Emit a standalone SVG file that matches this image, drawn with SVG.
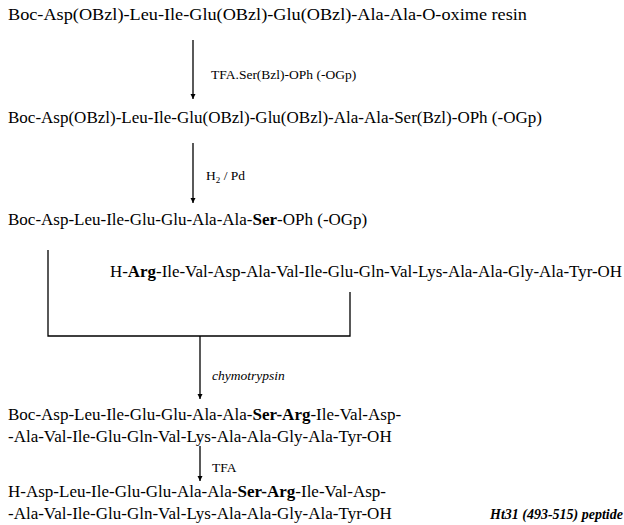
<svg xmlns="http://www.w3.org/2000/svg" width="624" height="525" viewBox="0 0 624 525">
<style>
text{font-family:'Liberation Serif','DejaVu Serif','Times New Roman',Times,serif;fill:#000}
.t{font-size:17px}
.l{font-size:13.5px}
.b{font-weight:bold}
.c{stroke:#000;stroke-width:1.3;fill:none}
</style>
<defs>
<marker id="ah" viewBox="0 0 10 10" refX="10" refY="5" markerWidth="5" markerHeight="6" orient="auto" markerUnits="userSpaceOnUse">
<path d="M0,0 L10,5 L0,10 z" fill="#000"/>
</marker>
</defs>
<g id="connectors">
<line class="c" x1="193" y1="40" x2="193" y2="99" marker-end="url(#ah)"/>
<line class="c" x1="193" y1="143" x2="193" y2="203" marker-end="url(#ah)"/>
<polyline class="c" points="48,250 48,336 350,336 350,292"/>
<line class="c" x1="200" y1="336" x2="200" y2="399" marker-end="url(#ah)"/>
<line class="c" x1="200" y1="446" x2="200" y2="481" marker-end="url(#ah)"/>
</g>
<g id="n1"><text class="t" x="8" y="20" textLength="519" lengthAdjust="spacingAndGlyphs">Boc-Asp(OBzl)-Leu-Ile-Glu(OBzl)-Glu(OBzl)-Ala-Ala-O-oxime resin</text></g>
<g id="lbl1"><text class="l" x="211" y="79">TFA.Ser(Bzl)-OPh (-OGp)</text></g>
<g id="n2"><text class="t" x="8" y="123">Boc-Asp(OBzl)-Leu-Ile-Glu(OBzl)-Glu(OBzl)-Ala-Ala-Ser(Bzl)-OPh (-OGp)</text></g>
<g id="lbl2"><text class="l" x="206" y="180">H<tspan font-size="9" dy="3">2</tspan><tspan dy="-3"> / Pd</tspan></text></g>
<g id="n3"><text class="t" x="8" y="225">Boc-Asp-Leu-Ile-Glu-Glu-Ala-Ala-<tspan class="b">Ser</tspan>-OPh (-OGp)</text></g>
<g id="n4"><text class="t" x="110" y="277" textLength="512" lengthAdjust="spacingAndGlyphs">H-<tspan class="b">Arg</tspan>-Ile-Val-Asp-Ala-Val-Ile-Glu-Gln-Val-Lys-Ala-Ala-Gly-Ala-Tyr-OH</text></g>
<g id="lbl3"><text class="l" x="212" y="380" font-style="italic">chymotrypsin</text></g>
<g id="n5"><text class="t" x="8" y="420">Boc-Asp-Leu-Ile-Glu-Glu-Ala-Ala-<tspan class="b">Ser-Arg</tspan>-Ile-Val-Asp-</text><text class="t" x="8" y="442">-Ala-Val-Ile-Glu-Gln-Val-Lys-Ala-Ala-Gly-Ala-Tyr-OH</text></g>
<g id="lbl4"><text class="l" x="212" y="472">TFA</text></g>
<g id="n6"><text class="t" x="8" y="497">H-Asp-Leu-Ile-Glu-Glu-Ala-Ala-<tspan class="b">Ser-Arg</tspan>-Ile-Val-Asp-</text><text class="t" x="8" y="519">-Ala-Val-Ile-Glu-Gln-Val-Lys-Ala-Ala-Gly-Ala-Tyr-OH</text></g>
<g id="n7"><text x="490" y="519" font-size="14" font-weight="bold" font-style="italic">Ht31 (493-515) peptide</text></g>
</svg>
